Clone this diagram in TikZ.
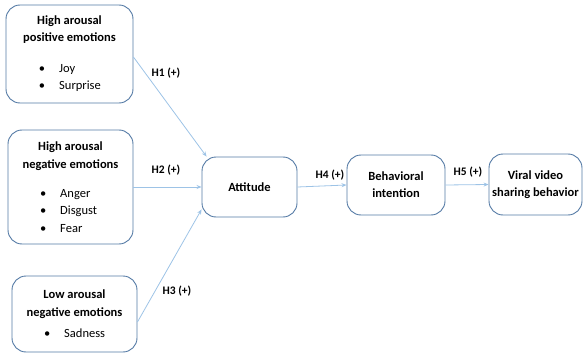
\documentclass[tikz,border=0pt]{standalone}
\usepackage{fontspec}
\setmainfont{Carlito}
\usetikzlibrary{arrows.meta}
\definecolor{boxblue}{RGB}{84,122,165}
\definecolor{lineblue}{RGB}{157,195,230}
\newcommand{\bitem}[1]{\makebox[61pt][l]{\textbullet\hspace{14pt}#1}}
\begin{document}
\begin{tikzpicture}[x=1pt, y=-1pt, font=\fontsize{12.5}{17}\selectfont,
  box/.style={draw=boxblue, line width=0.9pt, rounded corners=14pt, fill=white, align=center, inner sep=0pt},
  link/.style={draw=lineblue, line width=0.8pt, -{Stealth[length=5pt, width=4pt]}},
  hyp/.style={font=\fontsize{11.5}{13}\selectfont\bfseries}]
  \useasboundingbox (0,0) rectangle (584,353);
  % emotion boxes
  \node[box, minimum width=127pt, minimum height=98pt] (hpos) at (69.5,54)
    {\textbf{High arousal}\\\textbf{positive emotions}\\[14pt]\bitem{Joy}\\\bitem{Surprise}};
  \node[box, minimum width=125pt, minimum height=114pt] (hneg) at (70.5,187)
    {\textbf{High arousal}\\[1pt]\textbf{negative emotions}\\[12pt]\bitem{Anger}\\\bitem{Disgust}\\[1pt]\bitem{Fear}};
  \node[box, minimum width=125pt, minimum height=76pt] (lneg) at (74.5,314)
    {\textbf{Low arousal}\\[1pt]\textbf{negative emotions}\\[4pt]\bitem{Sadness}};
  % chain
  \node[box, minimum width=95pt, minimum height=60pt, font=\fontsize{12.5}{17}\selectfont\bfseries] (att) at (249.5,187) {Attitude};
  \node[box, minimum width=98pt, minimum height=60pt, font=\fontsize{12.5}{17}\selectfont\bfseries] (beh) at (396,185) {Behavioral\\intention};
  \node[box, minimum width=93pt, minimum height=61pt, font=\fontsize{12.5}{17}\selectfont\bfseries] (vir) at (535.5,184.5) {Viral video\\sharing behavior};
  % hypotheses
  \draw[link] ([yshift=-3pt]hpos.east) -- ([xshift=5pt]att.north west);
  \draw[link] (hneg.east) -- (att.west);
  \draw[link] ([yshift=-8pt]lneg.east) -- ([yshift=8pt]att.south west);
  \draw[link] (att.east) -- (beh.west);
  \draw[link] (beh.east) -- (vir.west);
  \node[hyp] (h1) at (166,73) {H1 (+)};
  \node[hyp] (h2) at (166,170) {H2 (+)};
  \node[hyp] (h3) at (177,291) {H3 (+)};
  \node[hyp] (h4) at (330,175) {H4 (+)};
  \node[hyp] (h5) at (468,172) {H5 (+)};
\end{tikzpicture}
\end{document}
